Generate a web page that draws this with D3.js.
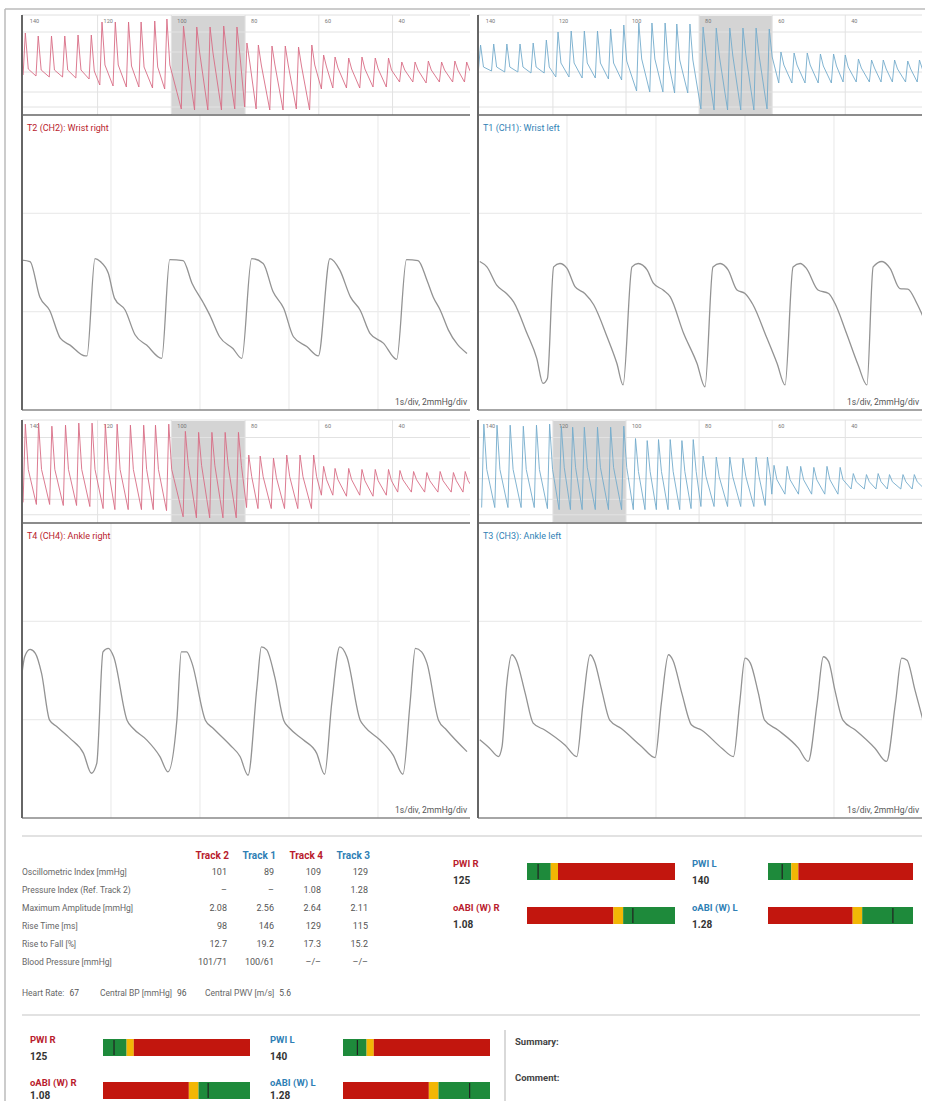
<!DOCTYPE html>
<html>
<head>
<meta charset="utf-8">
<script src="https://cdn.jsdelivr.net/npm/d3@7"></script>
<style>
  body { margin: 0; background: #fff; }
  svg { display: block; font-family: Roboto, "Noto Sans", sans-serif; }
</style>
</head>
<body>
<svg id="canvas"></svg>
<script>
const WIDTH = 925;
const HEIGHT = 1101;

// detail waveforms: [time s, pressure mmHg]
const wristRightWave = [[0,3.05],[0.09,3.02],[0.2,2.3],[0.31,2.03],[0.43,1.46],[0.54,1.32],[0.71,1.1],[0.73,1.1],[0.82,3.08],[0.88,3.02],[0.97,2.78],[1.04,2.27],[1.16,2.03],[1.27,1.53],[1.4,1.32],[1.57,1.05],[1.66,3.06],[1.81,3.04],[1.91,2.58],[2.04,2.17],[2.11,1.93],[2.22,1.49],[2.37,1.25],[2.47,1.05],[2.58,3.08],[2.71,2.98],[2.82,2.41],[2.94,2.07],[3.05,1.49],[3.2,1.29],[3.33,1.1],[3.46,3.08],[3.57,2.85],[3.69,2.3],[3.8,2.03],[3.91,1.56],[4.06,1.36],[4.21,1.03],[4.32,3.06],[4.45,3.04],[4.55,2.64],[4.62,2.3],[4.7,2.03],[4.79,1.63],[5.0,1.15]];
const wristLeftWave = [[0.02,3.02],[0.1,2.91],[0.21,2.54],[0.32,2.37],[0.4,2.2],[0.55,1.56],[0.66,1.05],[0.73,0.54],[0.78,0.64],[0.85,2.91],[0.92,2.98],[1.0,2.88],[1.09,2.51],[1.2,2.37],[1.3,2.14],[1.45,1.49],[1.56,0.95],[1.63,0.51],[1.73,2.91],[1.8,2.98],[1.9,2.85],[1.97,2.58],[2.08,2.44],[2.16,2.3],[2.31,1.56],[2.46,0.95],[2.55,0.47],[2.64,2.91],[2.72,2.98],[2.81,2.85],[2.91,2.44],[3.0,2.37],[3.09,2.14],[3.24,1.49],[3.36,0.95],[3.45,0.51],[3.54,2.91],[3.62,2.98],[3.69,2.88],[3.82,2.44],[3.94,2.37],[4.01,2.17],[4.14,1.56],[4.27,0.92],[4.37,0.51],[4.44,2.91],[4.54,3.02],[4.63,2.88],[4.74,2.47],[4.83,2.46],[4.93,2.17],[5.0,1.9]];
const ankleRightWave = [[0,2.94],[0.03,3.28],[0.09,3.43],[0.15,3.35],[0.22,2.94],[0.31,1.99],[0.39,1.86],[0.54,1.62],[0.69,1.32],[0.78,0.91],[0.84,1.11],[0.91,3.38],[0.97,3.45],[1.03,3.28],[1.18,1.99],[1.25,1.82],[1.4,1.59],[1.55,1.25],[1.64,0.94],[1.74,1.99],[1.79,3.38],[1.85,3.38],[1.91,3.15],[2.06,1.99],[2.15,1.82],[2.34,1.48],[2.45,1.25],[2.54,0.87],[2.64,2.67],[2.69,3.48],[2.75,3.42],[2.84,2.87],[2.94,1.99],[3.01,1.82],[3.16,1.59],[3.31,1.32],[3.4,0.89],[3.48,2.33],[3.57,3.48],[3.65,3.28],[3.8,1.99],[3.85,1.86],[4.02,1.59],[4.17,1.28],[4.28,0.89],[4.36,2.33],[4.42,3.45],[4.49,3.38],[4.55,3.15],[4.68,1.99],[4.77,1.79],[5.0,1.35]];
const ankleLeftWave = [[0.02,1.59],[0.13,1.42],[0.23,1.25],[0.27,1.45],[0.32,2.67],[0.38,3.32],[0.43,3.21],[0.53,2.54],[0.62,1.93],[0.75,1.79],[0.98,1.48],[1.11,1.25],[1.18,2.33],[1.26,3.32],[1.31,3.18],[1.39,2.6],[1.48,1.99],[1.61,1.82],[1.84,1.45],[1.99,1.23],[2.06,2.33],[2.14,3.32],[2.19,3.21],[2.29,2.54],[2.4,1.89],[2.51,1.79],[2.74,1.42],[2.87,1.25],[2.94,2.33],[3.0,3.25],[3.06,3.15],[3.15,2.54],[3.22,1.99],[3.37,1.79],[3.6,1.42],[3.71,1.15],[3.81,2.33],[3.88,3.28],[3.94,3.18],[4.01,2.6],[4.1,1.99],[4.24,1.79],[4.46,1.42],[4.59,1.15],[4.69,2.33],[4.76,3.25],[4.82,3.21],[4.91,2.6],[5.0,1.99]];

// overview beats: [cuff mmHg, peak, after-peak, trough]
const wristRightBeats = [[140.2,82,46,40],[136.7,79,45,39],[133.1,79,45,38],[129.5,79,45,38],[125.9,80,45,37],[122.3,80,44,36],[119.4,93,50,30],[115.8,93,50,29],[112.2,93,49,28],[108.8,93,48,28],[105.1,94,48,27],[101.8,96,50,26],[97.3,89,62,6],[93.7,88,62,5],[90.1,88,62,5],[86.4,89,62,5],[82.8,88,60,6],[80.1,72,52,8],[77.0,70,50,6],[73.3,69,50,5],[69.7,69,50,5],[66.1,68,49,6],[62.5,70,50,5],[59.3,60,48,26],[56.2,58,47,27],[52.5,57,46,27],[48.9,58,46,27],[45.3,57,46,28],[41.7,57,45,28],[38.1,53,45,33],[34.5,53,45,33],[30.9,54,45,32],[27.3,53,45,33],[23.7,54,45,33],[20.5,53,45,33]];
const wristLeftBeats = [[140.4,70,48,44],[136.8,71,48,44],[133.2,71,48,43],[129.6,71,48,43],[126.0,72,48,42],[122.4,75,48,42],[119.2,83,52,38],[115.6,84,52,38],[112.0,84,52,37],[108.4,84,52,37],[104.8,86,52,36],[101.2,90,54,35],[97.1,92,56,24],[93.5,92,56,23],[89.9,92,55,23],[86.7,91,55,22],[83.1,91,55,22],[79.5,88,60,6],[75.9,87,60,5],[72.2,87,60,5],[68.6,87,60,5],[65.0,87,60,5],[61.4,86,58,6],[58.2,63,50,32],[54.6,62,50,32],[51.0,62,50,32],[47.4,61,49,32],[43.8,61,49,32],[40.6,60,48,33],[37.0,56,47,33],[33.4,55,47,33],[30.2,55,46,33],[27.1,55,46,33],[23.5,54,46,33],[20.3,55,46,33]];
const ankleRightBeats = [[140.2,96,52,20],[136.6,97,52,18],[133.0,94,52,18],[129.3,95,52,17],[125.7,97,52,17],[122.1,97,52,16],[118.5,96,52,14],[115.3,96,52,13],[111.7,95,52,13],[108.1,95,52,13],[104.9,95,52,13],[101.3,96,52,12],[96.8,89,56,6],[93.2,88,56,5],[89.6,88,56,5],[86.0,88,56,5],[82.4,88,56,5],[79.6,66,45,15],[76.5,65,45,14],[72.9,63,44,14],[69.3,66,45,14],[65.7,66,45,14],[62.0,66,45,14],[59.3,55,42,27],[56.2,53,42,27],[52.5,53,42,26],[48.9,52,41,27],[45.3,52,41,26],[41.7,52,41,27],[38.6,51,42,30],[34.9,50,42,30],[31.3,49,41,30],[27.7,50,41,30],[24.1,49,41,30],[20.9,50,41,30]];
const ankleLeftBeats = [[139.5,96,52,15],[135.9,95,52,15],[132.3,95,52,15],[128.7,94,52,15],[125.1,95,52,15],[121.5,96,52,14],[118.3,94,54,13],[115.2,93,54,13],[112.0,93,54,13],[108.4,93,54,13],[104.8,93,54,13],[101.2,94,54,13],[98.0,82,50,13],[94.8,80,50,13],[91.7,81,50,13],[88.5,81,50,13],[85.3,80,50,13],[82.2,81,50,14],[79.5,65,45,16],[75.9,64,45,16],[72.2,64,45,16],[68.6,63,45,16],[65.0,64,45,16],[61.9,64,45,17],[60.1,56,42,28],[56.5,55,42,28],[52.8,55,42,28],[49.2,54,42,28],[45.6,55,42,28],[42.0,54,42,28],[38.4,48,40,33],[34.8,47,40,33],[31.6,48,40,33],[28.5,47,40,33],[24.8,47,40,33],[21.7,47,40,33]];

const cuffTicks = [140, 120, 100, 80, 60, 40];
const overviewGrid = [8, 23, 43, 63, 83];
const timeTicks = [1, 2, 3, 4];
const mmHgTicks = [2, 4];

// table
const trackNames = ["Track 2", "Track 1", "Track 4", "Track 3"];
const trackSide = ["R", "L", "R", "L"];
const rowLabels = ["Oscillometric Index [mmHg]", "Pressure Index (Ref. Track 2)", "Maximum Amplitude [mmHg]", "Rise Time [ms]", "Rise to Fall [%]", "Blood Pressure [mmHg]"];
const track2Values = ["101", "–", "2.08", "98", "12.7", "101/71"];
const track1Values = ["89", "–", "2.56", "146", "19.2", "100/61"];
const track4Values = ["109", "1.08", "2.64", "129", "17.3", "–/–"];
const track3Values = ["129", "1.28", "2.11", "115", "15.2", "–/–"];
const summaryLabels = ["Heart Rate:", "Central BP [mmHg]", "Central PWV [m/s]"];
const summaryValues = ["67", "96", "5.6"];

// gauges
const gaugeNames = ["PWI R", "oABI (W) R", "PWI L", "oABI (W) L"];
const gaugeValues = [125, 1.08, 140, 1.28];
const pwiZones = [[76, 181, "green"], [181, 213, "yellow"], [213, 730, "red"]];
const abiZones = [[0.1, 0.9, "red"], [0.9, 0.99, "yellow"], [0.99, 1.47, "green"]];

const RED = "#b91c2e";
const BLUE = "#2f7fb5";
const zoneColor = { green: "#1e8a3b", yellow: "#f2b705", red: "#c2160e" };

const canvas = d3.select("#canvas").attr("width", WIDTH).attr("height", HEIGHT);

const panels = [
  { title: "T2 (CH2): Wrist right", color: RED, line: "#d86c85", x0: 22, x1: 470, top: 15, split: 115, bottom: 410, beats: wristRightBeats, wave: wristRightWave, hi: [100, 80] },
  { title: "T1 (CH1): Wrist left", color: BLUE, line: "#74abcc", x0: 478, x1: 922, top: 15, split: 115, bottom: 410, beats: wristLeftBeats, wave: wristLeftWave, hi: [80, 60] },
  { title: "T4 (CH4): Ankle right", color: RED, line: "#d86c85", x0: 22, x1: 470, top: 420, split: 523, bottom: 818, beats: ankleRightBeats, wave: ankleRightWave, hi: [100, 80] },
  { title: "T3 (CH3): Ankle left", color: BLUE, line: "#74abcc", x0: 478, x1: 922, top: 420, split: 523, bottom: 818, beats: ankleLeftBeats, wave: ankleLeftWave, hi: [120, 100] },
];

const drawFrame = () => {
  canvas.append("line").attr("x1", 5).attr("x2", WIDTH).attr("y1", 9).attr("y2", 9)
    .attr("stroke", "#bbb").attr("stroke-width", 1.5);
  canvas.append("line").attr("x1", 5).attr("x2", 5).attr("y1", 9).attr("y2", HEIGHT)
    .attr("stroke", "#bbb").attr("stroke-width", 1.5);
};

const drawPanel = (p, i) => {
  const g = canvas.append("g");
  const clipId = "clip" + i;
  const clip = g.append("clipPath").attr("id", clipId);
  clip.append("rect").attr("x", p.x0).attr("y", p.top).attr("width", p.x1 - p.x0).attr("height", p.bottom - p.top);

  // overview
  const xCuff = d3.scaleLinear().domain([140.5, 19]).range([p.x0, p.x1]);
  const yOv = d3.scaleLinear().domain([0, 100]).range([p.split, p.top]);

  g.append("rect")
    .attr("x", xCuff(p.hi[0])).attr("width", xCuff(p.hi[1]) - xCuff(p.hi[0]))
    .attr("y", p.top + 1).attr("height", p.split - p.top - 2)
    .attr("fill", "#d4d4d4");

  g.selectAll(".ovh").data(overviewGrid).enter().append("line")
    .attr("x1", p.x0).attr("x2", p.x1)
    .attr("y1", (d) => yOv(d)).attr("y2", (d) => yOv(d))
    .attr("stroke", "#e2e2e2").attr("stroke-width", 1);

  g.selectAll(".ovv").data(cuffTicks.slice(1)).enter().append("line")
    .attr("x1", (d) => xCuff(d)).attr("x2", (d) => xCuff(d))
    .attr("y1", p.top).attr("y2", p.split)
    .attr("stroke", "#e2e2e2").attr("stroke-width", 1);

  g.selectAll(".ovt").data(cuffTicks).enter().append("text")
    .attr("x", (d) => xCuff(d) + 6).attr("y", p.top + 8)
    .attr("font-size", 5.5).attr("fill", "#777")
    .text((d) => d);

  const beatPts = [];
  p.beats.forEach((b, k) => {
    beatPts.push([b[0], b[3]]);
    beatPts.push([b[0] - 0.6, b[1]]);
    beatPts.push([b[0] - 1.4, b[2]]);
    if (k === p.beats.length - 1) beatPts.push([b[0] - 3.4, b[3]]);
  });
  g.append("path")
    .datum(beatPts)
    .attr("clip-path", "url(#" + clipId + ")")
    .attr("fill", "none").attr("stroke", p.line).attr("stroke-width", 0.9)
    .attr("d", d3.line().x((d) => xCuff(d[0])).y((d) => yOv(d[1])));

  // detail
  const xT = d3.scaleLinear().domain([0, 5]).range([p.x0, p.x0 + 445]);
  const yP = d3.scaleLinear().domain([0, 6]).range([p.bottom, p.split]);

  g.selectAll(".dv").data(timeTicks).enter().append("line")
    .attr("x1", (d) => xT(d)).attr("x2", (d) => xT(d))
    .attr("y1", p.split).attr("y2", p.bottom)
    .attr("stroke", "#ececec").attr("stroke-width", 1.2);
  g.selectAll(".dh").data(mmHgTicks).enter().append("line")
    .attr("x1", p.x0).attr("x2", p.x1)
    .attr("y1", (d) => yP(d)).attr("y2", (d) => yP(d))
    .attr("stroke", "#ececec").attr("stroke-width", 1.2);

  g.append("path")
    .datum(p.wave)
    .attr("clip-path", "url(#" + clipId + ")")
    .attr("fill", "none").attr("stroke", "#939393").attr("stroke-width", 1.3)
    .attr("d", d3.line().curve(d3.curveMonotoneX).x((d) => xT(d[0])).y((d) => yP(d[1])));

  g.append("text").attr("x", p.x0 + 5).attr("y", p.split + 16)
    .attr("font-size", 9).attr("fill", p.color).text(p.title);
  g.append("text").attr("x", p.x1 - 3).attr("y", p.bottom - 5)
    .attr("text-anchor", "end").attr("font-size", 8.5).attr("fill", "#555")
    .text("1s/div, 2mmHg/div");

  // borders
  g.append("line").attr("x1", p.x0).attr("x2", p.x1).attr("y1", p.top).attr("y2", p.top)
    .attr("stroke", "#e0e0e0");
  g.append("line").attr("x1", p.x0).attr("x2", p.x1).attr("y1", p.split).attr("y2", p.split)
    .attr("stroke", "#666").attr("stroke-width", 1.5);
  g.append("line").attr("x1", p.x0).attr("x2", p.x1).attr("y1", p.bottom).attr("y2", p.bottom)
    .attr("stroke", "#888").attr("stroke-width", 1.5);
  g.append("line").attr("x1", p.x0).attr("x2", p.x0).attr("y1", p.top).attr("y2", p.bottom)
    .attr("stroke", "#666").attr("stroke-width", 2);
};

const drawTable = () => {
  const cols = [track2Values, track1Values, track4Values, track3Values];
  const colX = d3.scalePoint().domain(trackNames).range([227, 368]);
  const rowY = d3.scaleLinear().domain([0, rowLabels.length - 1]).range([875, 965]);
  const colColor = (k) => (trackSide[k] === "R" ? RED : BLUE);

  canvas.append("line").attr("x1", 22).attr("x2", 922).attr("y1", 836).attr("y2", 836)
    .attr("stroke", "#e2e2e2").attr("stroke-width", 2);

  canvas.selectAll(".th").data(trackNames).enter().append("text")
    .attr("x", (d) => colX(d) + 2).attr("y", 859)
    .attr("text-anchor", "end").attr("font-size", 10).attr("font-weight", "bold")
    .attr("fill", (d, k) => colColor(k)).text((d) => d);

  canvas.selectAll(".rl").data(rowLabels).enter().append("text")
    .attr("x", 22).attr("y", (d, k) => rowY(k))
    .attr("font-size", 8.5).attr("fill", "#666").text((d) => d);

  cols.forEach((vals, c) => {
    canvas.selectAll(".cv" + c).data(vals).enter().append("text")
      .attr("x", colX(trackNames[c])).attr("y", (d, k) => rowY(k))
      .attr("text-anchor", "end").attr("font-size", 9).attr("fill", "#555")
      .text((d) => d);
  });

  const sx = [22, 100, 205];
  summaryLabels.forEach((lab, k) => {
    const t = canvas.append("text").attr("x", sx[k]).attr("y", 996)
      .attr("font-size", 8.5).attr("fill", "#666");
    t.append("tspan").text(lab);
    t.append("tspan").attr("dx", 5).attr("fill", "#555").text(summaryValues[k]);
  });

  canvas.append("line").attr("x1", 22).attr("x2", 920).attr("y1", 1015).attr("y2", 1015)
    .attr("stroke", "#e2e2e2").attr("stroke-width", 2);
};

const drawGauge = (k, labelX, barX, barW, y) => {
  const isPwi = gaugeNames[k].startsWith("PWI");
  const zones = isPwi ? pwiZones : abiZones;
  const scale = d3.scaleLinear().domain([zones[0][0], zones[2][1]]).range([barX, barX + barW]);
  const color = gaugeNames[k].endsWith("R") ? RED : BLUE;
  const fmt = isPwi ? d3.format("d") : d3.format(".2f");

  canvas.append("text").attr("x", labelX).attr("y", y + 4)
    .attr("font-size", 9.5).attr("font-weight", "bold").attr("fill", color).text(gaugeNames[k]);
  canvas.append("text").attr("x", labelX).attr("y", Math.min(y + 21, HEIGHT - 2))
    .attr("font-size", 10).attr("font-weight", "bold").attr("fill", "#333").text(fmt(gaugeValues[k]));

  canvas.selectAll(null).data(zones).enter().append("rect")
    .attr("x", (d) => scale(d[0])).attr("width", (d) => scale(d[1]) - scale(d[0]))
    .attr("y", y).attr("height", 17)
    .attr("fill", (d) => zoneColor[d[2]]);
  canvas.append("line")
    .attr("x1", scale(gaugeValues[k])).attr("x2", scale(gaugeValues[k]))
    .attr("y1", y + 1).attr("y2", y + 16)
    .attr("stroke", "#222").attr("stroke-width", 1.2);
};

const drawGauges = () => {
  // upper block, beside the table
  drawGauge(0, 453, 527, 148, 863);
  drawGauge(1, 453, 527, 148, 907);
  drawGauge(2, 692, 768, 145, 863);
  drawGauge(3, 692, 768, 145, 907);
  // lower block
  drawGauge(0, 30, 103, 147, 1039);
  drawGauge(1, 30, 103, 147, 1082);
  drawGauge(2, 270, 343, 147, 1039);
  drawGauge(3, 270, 343, 147, 1082);

  canvas.append("line").attr("x1", 505).attr("x2", 505).attr("y1", 1030).attr("y2", HEIGHT)
    .attr("stroke", "#ccc").attr("stroke-width", 1.5);
  canvas.append("text").attr("x", 515).attr("y", 1045)
    .attr("font-size", 9.5).attr("font-weight", "bold").attr("fill", "#444").text("Summary:");
  canvas.append("text").attr("x", 515).attr("y", 1081)
    .attr("font-size", 9.5).attr("font-weight", "bold").attr("fill", "#444").text("Comment:");
};

drawFrame();
panels.forEach(drawPanel);
drawTable();
drawGauges();
</script>
</body>
</html>
